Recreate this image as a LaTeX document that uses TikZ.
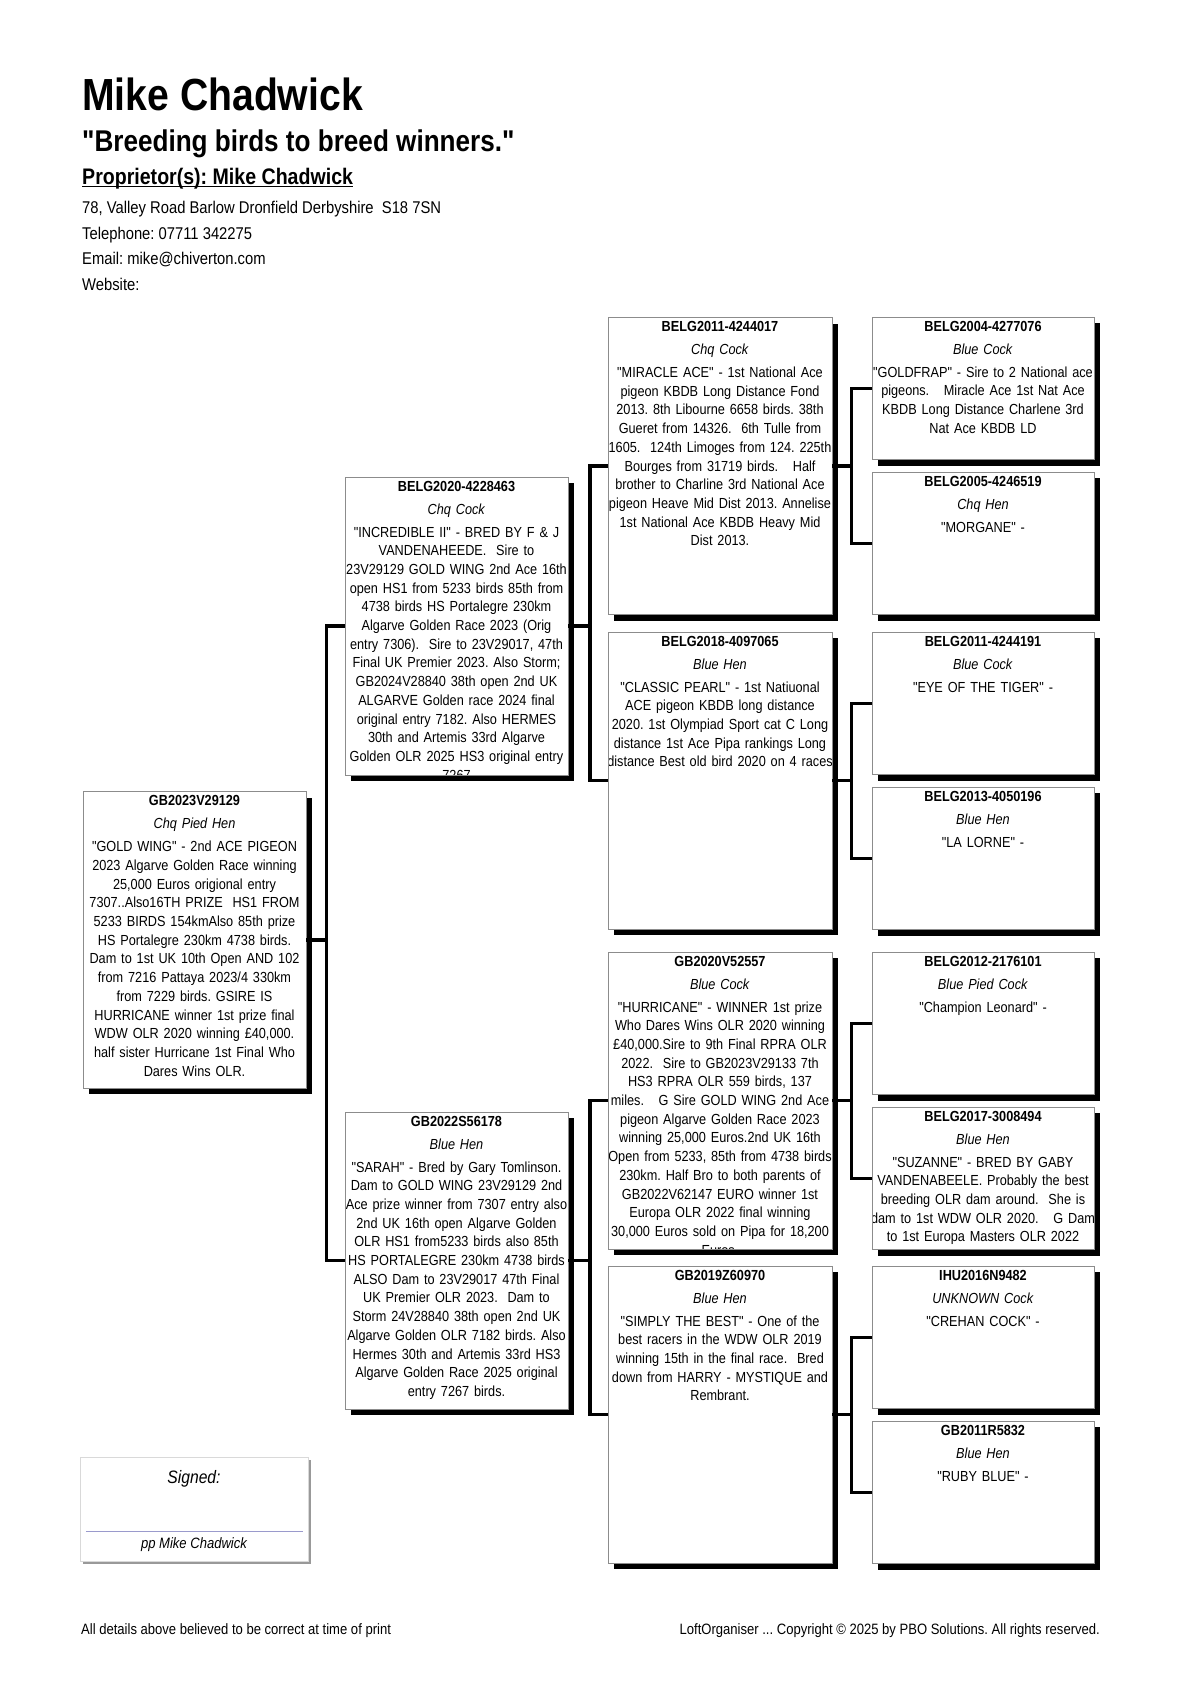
\documentclass[tikz,border=0pt]{standalone}
\usepackage{fontspec}
\newfontfamily\arial{Liberation Sans}[FakeStretch=0.87]
\usetikzlibrary{shadows}

\definecolor{boxgray}{HTML}{8C8C8C}
\definecolor{signline}{HTML}{9A9ACC}

\tikzset{
  bird/.style={draw=boxgray, fill=white, line width=0.8pt, inner sep=0pt,
    minimum width=224pt, minimum height=297pt,
    drop shadow={shadow xshift=6pt, shadow yshift=-6pt, fill=black, opacity=1}},
  small/.style={bird, minimum width=222pt, minimum height=142.5pt},
  info/.style n args={3}{path picture={
    \node[infotext] at ([yshift=-14pt]path picture bounding box.north)
      {\textbf{#1}\\[4.3pt]\textit{#2}\\[4.3pt]#3};}},
  infotext/.style={anchor=base, inner sep=0pt, text width=240pt, align=center,
    font=\fontsize{14.6}{18.7}\selectfont},
  link/.style={line width=3.5pt},
  head/.style={anchor=base west, inner sep=0pt},
}

\begin{document}
\arial\frenchspacing
\begin{tikzpicture}[x=1pt,y=-1pt]
  \useasboundingbox[fill=white] (0,0) rectangle (1200,1697);

  % heading
  \node[head, font=\fontsize{45}{45}\selectfont\bfseries] (name) at (82,110) {Mike Chadwick};
  \node[head, font=\fontsize{30}{30}\selectfont\bfseries] (motto) at (82,151) {"Breeding birds to breed winners."};
  \node[head, font=\fontsize{22.5}{22.5}\selectfont\bfseries] (owner) at (82,184) {Proprietor(s): Mike Chadwick};
  \draw[line width=1.5pt] ([yshift=-2.5pt]owner.base west) -- ([yshift=-2.5pt]owner.base east);
  \node[head, font=\fontsize{17}{17}\selectfont] (addr) at (82,213) {78, Valley Road Barlow Dronfield Derbyshire\ \ S18 7SN};
  \node[head, font=\fontsize{17}{17}\selectfont] (tel) at (82,239) {Telephone: 07711 342275};
  \node[head, font=\fontsize{17}{17}\selectfont] (mail) at (82,264) {Email: mike@chiverton.com};
  \node[head, font=\fontsize{17}{17}\selectfont] (web) at (82,290) {Website:};

  % bird
  \node[bird, minimum width=223pt, minimum height=296.5pt, info={GB2023V29129}{Chq Pied Hen}{%
    "GOLD WING" - 2nd ACE PIGEON\\2023 Algarve Golden Race winning\\25,000 Euros origional entry\\
    7307..Also16TH PRIZE\ \ HS1 FROM\\5233 BIRDS 154kmAlso 85th prize\\HS Portalegre 230km 4738 birds.\\
    Dam to 1st UK 10th Open AND 102\\from 7216 Pattaya 2023/4 330km\\from 7229 birds. GSIRE IS\\
    HURRICANE winner 1st prize final\\WDW OLR 2020 winning £40,000.\\half sister Hurricane 1st Final Who\\
    Dares Wins OLR.}] (g) at (194.5,940) {};

  % parents
  \node[bird, minimum width=223pt, minimum height=298pt, info={BELG2020-4228463}{Chq Cock}{%
    "INCREDIBLE II" - BRED BY F \& J\\VANDENAHEEDE.\ \ Sire to\\23V29129 GOLD WING 2nd Ace 16th\\
    open HS1 from 5233 birds 85th from\\4738 birds HS Portalegre 230km\\Algarve Golden Race 2023 (Orig\\
    entry 7306).\ \ Sire to 23V29017, 47th\\Final UK Premier 2023. Also Storm;\\GB2024V28840 38th open 2nd UK\\
    ALGARVE Golden race 2024 final\\original entry 7182. Also HERMES\\30th and Artemis 33rd Algarve\\
    Golden OLR 2025 HS3 original entry\\7267}] (s) at (456.5,626) {};
  \node[bird, minimum width=223pt, info={GB2022S56178}{Blue Hen}{%
    "SARAH" - Bred by Gary Tomlinson.\\Dam to GOLD WING 23V29129 2nd\\Ace prize winner from 7307 entry also\\
    2nd UK 16th open Algarve Golden\\OLR HS1 from5233 birds also 85th\\HS PORTALEGRE 230km 4738 birds\\
    ALSO Dam to 23V29017 47th Final\\UK Premier OLR 2023.\ \ Dam to\\Storm 24V28840 38th open 2nd UK\\
    Algarve Golden OLR 7182 birds. Also\\Hermes 30th and Artemis 33rd HS3\\Algarve Golden Race 2025 original\\
    entry 7267 birds.}] (d) at (456.5,1260.5) {};

  % grandparents
  \node[bird, info={BELG2011-4244017}{Chq Cock}{%
    "MIRACLE ACE" - 1st National Ace\\pigeon KBDB Long Distance Fond\\2013. 8th Libourne 6658 birds. 38th\\
    Gueret from 14326.\ \ 6th Tulle from\\1605.\ \ 124th Limoges from 124. 225th\\Bourges from 31719 birds.\ \ \ Half\\
    brother to Charline 3rd National Ace\\pigeon Heave Mid Dist 2013. Annelise\\1st National Ace KBDB Heavy Mid\\
    Dist 2013.}] (ss) at (720,466) {};
  \node[bird, info={BELG2018-4097065}{Blue Hen}{%
    "CLASSIC PEARL" - 1st Natiuonal\\ACE pigeon KBDB long distance\\2020. 1st Olympiad Sport cat C Long\\
    distance 1st Ace Pipa rankings Long\\distance Best old bird 2020 on 4 races}] (sd) at (720,780.5) {};
  \node[bird, info={GB2020V52557}{Blue Cock}{%
    "HURRICANE" - WINNER 1st prize\\Who Dares Wins OLR 2020 winning\\£40,000.Sire to 9th Final RPRA OLR\\
    2022.\ \ Sire to GB2023V29133 7th\\HS3 RPRA OLR 559 birds, 137\\miles.\ \ \ G Sire GOLD WING 2nd Ace\\
    pigeon Algarve Golden Race 2023\\winning 25,000 Euros.2nd UK 16th\\Open from 5233, 85th from 4738 birds\\
    230km. Half Bro to both parents of\\GB2022V62147 EURO winner 1st\\Europa OLR 2022 final winning\\
    30,000 Euros sold on Pipa for 18,200\\Euros.}] (ds) at (720,1100.5) {};
  \node[bird, info={GB2019Z60970}{Blue Hen}{%
    "SIMPLY THE BEST" - One of the\\best racers in the WDW OLR 2019\\winning 15th in the final race.\ \ Bred\\
    down from HARRY - MYSTIQUE and\\Rembrant.}] (dd) at (720,1414.5) {};

  % great grandparents
  \node[small, info={BELG2004-4277076}{Blue Cock}{%
    "GOLDFRAP" - Sire to 2 National ace\\pigeons.\ \ \ Miracle Ace 1st Nat Ace\\KBDB Long Distance Charlene 3rd\\
    Nat Ace KBDB LD}] (sss) at (983,388.25) {};
  \node[small, info={BELG2005-4246519}{Chq Hen}{"MORGANE" -}] (ssd) at (983,543.25) {};
  \node[small, info={BELG2011-4244191}{Blue Cock}{"EYE OF THE TIGER" -}] (sds) at (983,703.25) {};
  \node[small, info={BELG2013-4050196}{Blue Hen}{"LA LORNE" -}] (sdd) at (983,858.25) {};
  \node[small, info={BELG2012-2176101}{Blue Pied Cock}{"Champion Leonard" -}] (dss) at (983,1023.25) {};
  \node[small, info={BELG2017-3008494}{Blue Hen}{%
    "SUZANNE" - BRED BY GABY\\VANDENABEELE. Probably the best\\breeding OLR dam around.\ \ She is\\
    dam to 1st WDW OLR 2020.\ \ \ G Dam\\to 1st Europa Masters OLR 2022}] (dsd) at (983,1178.25) {};
  \node[small, info={IHU2016N9482}{UNKNOWN Cock}{"CREHAN COCK" -}] (dds) at (983,1337.25) {};
  \node[small, info={GB2011R5832}{Blue Hen}{"RUBY BLUE" -}] (ddd) at (983,1492.25) {};

  \begin{scope}[link]
    \draw (g.east) -- ++(20,0) |- (s.west);
    \draw (g.east) -- ++(20,0) |- (d.west);
    \draw (s.east) -- ++(21.5,0) |- (ss.west);
    \draw (s.east) -- ++(21.5,0) |- (sd.west);
    \draw (d.east) -- ++(21.5,0) |- (ds.west);
    \draw (d.east) -- ++(21.5,0) |- (dd.west);
    \draw (ss.east) -- ++(19,0) |- (sss.west);
    \draw (ss.east) -- ++(19,0) |- (ssd.west);
    \draw (sd.east) -- ++(19,0) |- (sds.west);
    \draw (sd.east) -- ++(19,0) |- (sdd.west);
    \draw (ds.east) -- ++(19,0) |- (dss.west);
    \draw (ds.east) -- ++(19,0) |- (dsd.west);
    \draw (dd.east) -- ++(19,0) |- (dds.west);
    \draw (dd.east) -- ++(19,0) |- (ddd.west);
  \end{scope}

  % signature
  \node[draw=gray!30, fill=white, minimum width=228pt, minimum height=104pt,
    drop shadow={shadow xshift=3pt, shadow yshift=-3pt, fill=gray!80, opacity=1}] (sign) at (194,1509) {};
  \node[anchor=base, inner sep=0pt, font=\fontsize{18}{18}\selectfont\itshape] (signed) at ([yshift=26pt]sign.center) {Signed:};
  \draw[signline, line width=1pt] ([xshift=6pt,yshift=-22pt]sign.west) -- ([xshift=-5pt,yshift=-22pt]sign.east);
  \node[anchor=base, inner sep=0pt, font=\fontsize{15}{15}\selectfont\itshape] (pp) at ([yshift=-39pt]sign.center) {pp Mike Chadwick};

  % footer
  \node[head, font=\fontsize{15}{15}\selectfont] (note) at (81,1634) {All details above believed to be correct at time of print};
  \node[anchor=base east, inner sep=0pt, font=\fontsize{15}{15}\selectfont] (copy) at (1100,1634) {LoftOrganiser ... Copyright © 2025 by PBO Solutions. All rights reserved.};
\end{tikzpicture}
\end{document}
